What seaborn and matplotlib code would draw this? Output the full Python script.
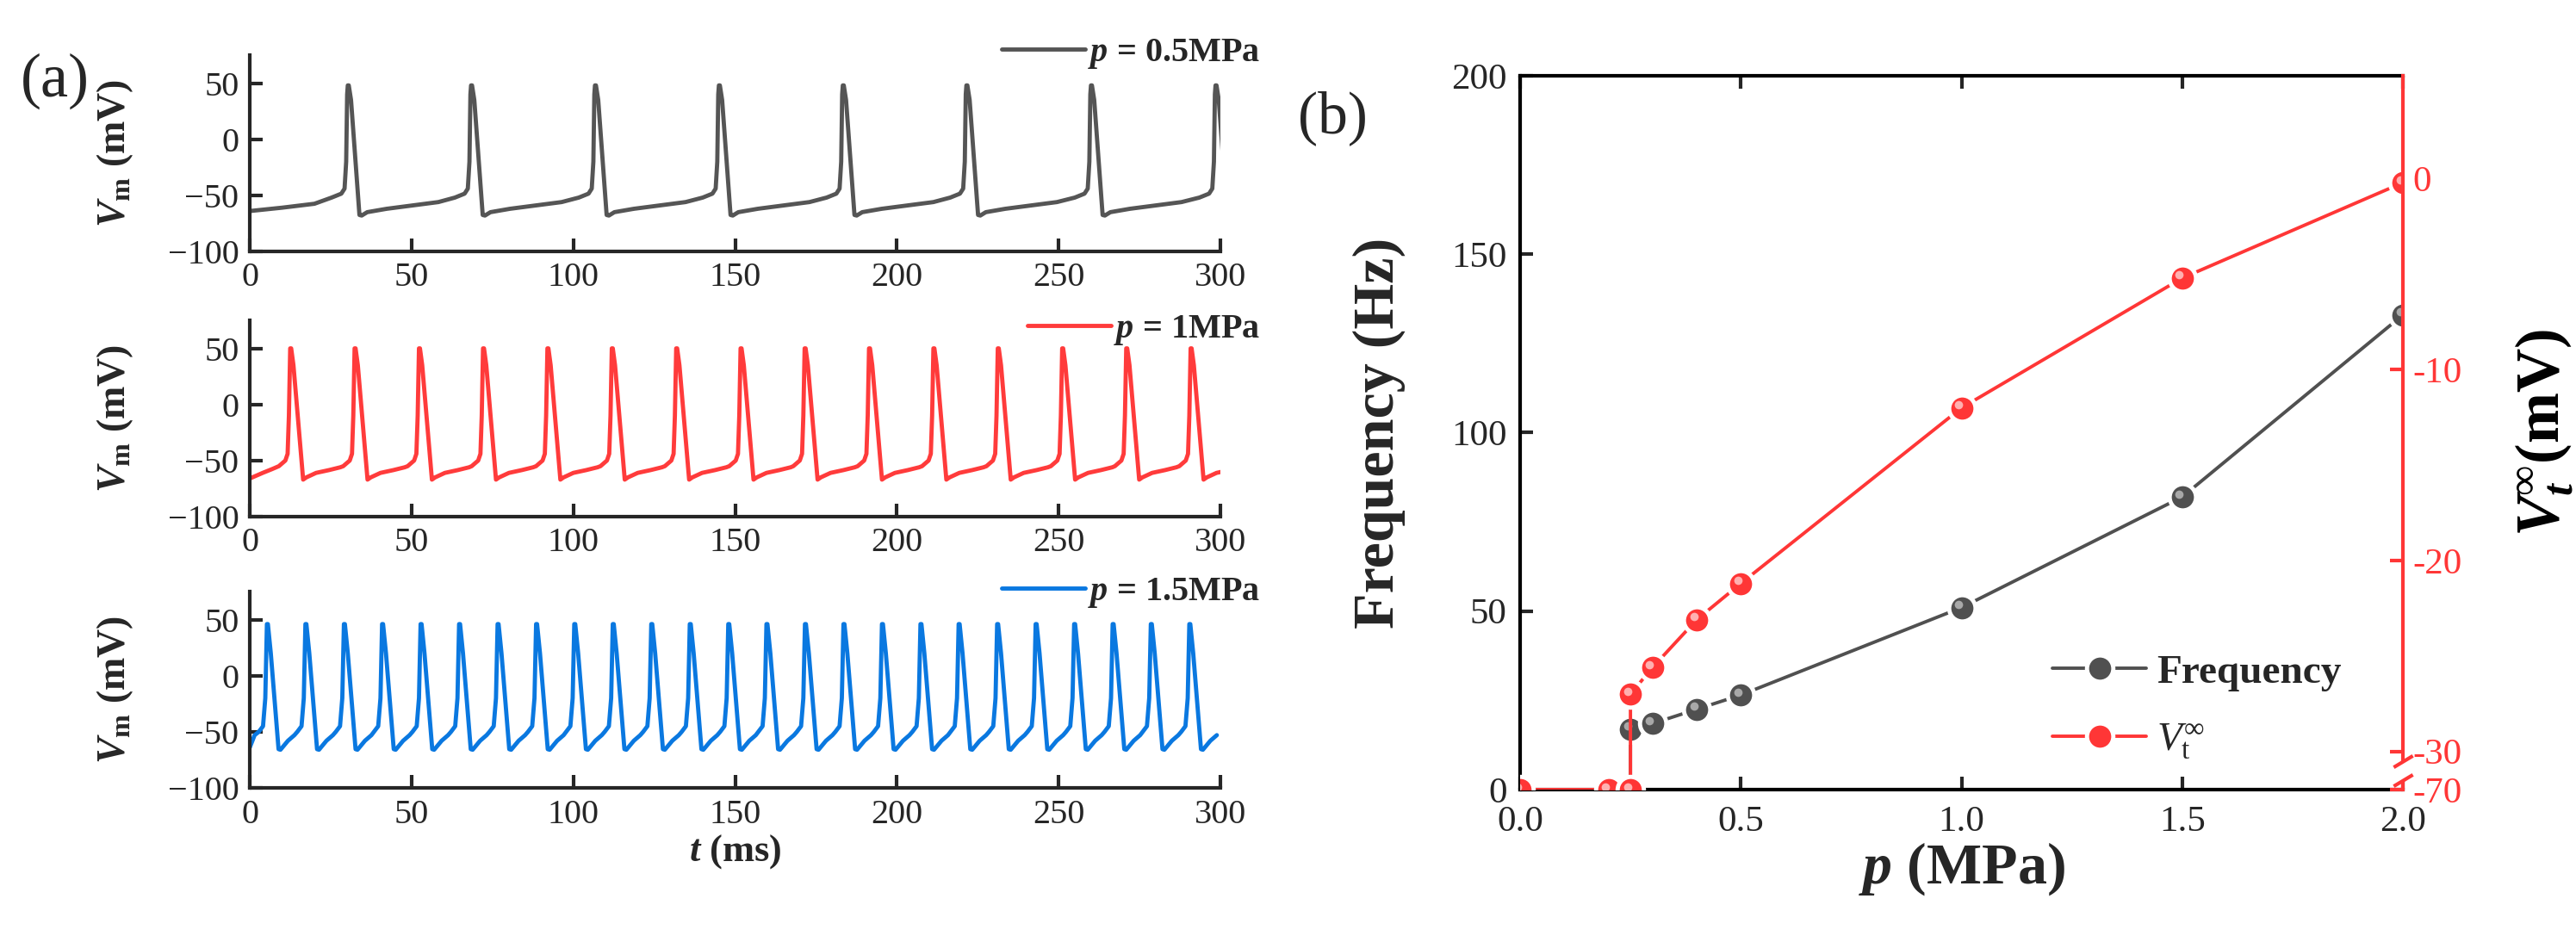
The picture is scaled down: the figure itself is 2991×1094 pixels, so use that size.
import numpy as np
import pandas as pd
import matplotlib
matplotlib.use("Agg")
import matplotlib.pyplot as plt
import seaborn as sns
from matplotlib.ticker import FuncFormatter, FormatStrFormatter, NullLocator
from matplotlib.transforms import blended_transform_factory, ScaledTranslation

# ---------------- panel (a): membrane potential traces ----------------
# spike peak times (ms)
peaks_05 = [30.3, 68.4, 106.7, 145.0, 183.3, 221.5, 260.0, 298.5]
peaks_10 = [12.5, 32.4, 52.3, 72.1, 92.0, 111.9, 131.8, 151.7, 171.5, 191.4,
            211.3, 231.2, 251.1, 270.9, 290.8]
peaks_15 = [5.3, 17.2, 29.1, 40.9, 52.8, 64.7, 76.6, 88.5, 100.3, 112.2, 124.1,
            136.0, 147.9, 159.7, 171.6, 183.5, 195.4, 207.3, 219.1, 231.0, 242.9,
            254.8, 266.7, 278.5, 290.4]

# one cycle of each trace: offset from the peak (ms) and V_m (mV)
cyc_05_dt = [-5.0, -2.0, -1.0, -0.5, -0.2, 0.0, 0.3, 1.0, 3.6, 4.3, 6.0, 12.0, 20.0, 28.0]
cyc_05_v = [-52, -48.5, -44, -20, 40, 48, 48, 35, -67.5, -68, -65, -62, -59, -56]
cyc_10_dt = [-3.5, -1.5, -0.8, -0.4, 0.0, 0.3, 1.0, 4.0, 5.0, 8.0, 12.0, 15.5]
cyc_10_v = [-55, -50, -44, -10, 50, 50, 35, -67, -65, -61, -58.5, -56]
cyc_15_dt = [-2.5, -1.2, -0.5, 0.0, 0.3, 1.2, 3.6, 4.2, 6.5, 8.5]
cyc_15_v = [-50, -45, -20, 46, 46, 20, -65.5, -66, -58, -53]

# start of each trace before the first spike
start_05_t, start_05_v = [0, 10, 20], [-64, -61, -57.5]
start_10_t, start_10_v = [0, 4, 7], [-66, -61, -57.5]
start_15_t, start_15_v = [0, 1.5], [-64, -53]

# ---------------- panel (b): frequency and V_t vs pressure ----------------
p_vals = [0.0, 0.2, 0.25, 0.25, 0.3, 0.4, 0.5, 1.0, 1.5, 2.0]
freq = [0, 0, 0, 17, 18.5, 22.5, 26.5, 51, 82, 133]
vt_inf = [-70, -70, -70, -27.0, -25.6, -23.1, -21.2, -12.0, -5.2, -0.2]

GRAY = "#505050"
RED = "#ff3636"
BLUE = "#0a78e0"


def build_trace(start_t, start_v, peaks, dt, v):
    t = list(start_t)
    y = list(start_v)
    for tp in peaks:
        t += [tp + d for d in dt]
        y += list(v)
    return pd.DataFrame({"t": t, "V": y})


sns.set_theme(style="ticks")
plt.rcParams["font.family"] = ["Liberation Serif", "DejaVu Serif"]
plt.rcParams["mathtext.fontset"] = "custom"
plt.rcParams["mathtext.rm"] = "Liberation Serif"
plt.rcParams["mathtext.it"] = "Liberation Serif:italic"
plt.rcParams["mathtext.bf"] = "Liberation Serif:bold"
try:
    plt.rcParams["mathtext.bfit"] = "Liberation Serif:bold:italic"
except KeyError:
    pass
plt.rcParams["xtick.direction"] = "in"
plt.rcParams["ytick.direction"] = "in"

W, H = 2991, 1094
fig = plt.figure(figsize=(W / 100, H / 100), dpi=100)

traces = [
    (build_trace(start_05_t, start_05_v, peaks_05, cyc_05_dt, cyc_05_v), "#555555",
     r"$\mathbfit{p}$ = 0.5MPa", 292, 1.005),
    (build_trace(start_10_t, start_10_v, peaks_10, cyc_10_dt, cyc_10_v), "#ff3b3b",
     r"$\mathbfit{p}$ = 1MPa", 600, 0.95),
    (build_trace(start_15_t, start_15_v, peaks_15, cyc_15_dt, cyc_15_v), BLUE,
     r"$\mathbfit{p}$ = 1.5MPa", 915, 0.995),
]

for df, col, lab, ybot, leg_y in traces:
    ax = fig.add_axes([290 / W, 1 - ybot / H, 1127 / W, 228 / H])
    sns.lineplot(data=df, x="t", y="V", color=col, lw=3.5, sort=False,
                 estimator=None, ax=ax, label=lab)
    ax.set_xlim(0, 300)
    ax.set_ylim(-100, 75)
    ax.set_xticks([0, 50, 100, 150, 200, 250, 300])
    ax.set_yticks([-100, -50, 0, 50])
    sns.despine(ax=ax)
    for s in ["left", "bottom"]:
        ax.spines[s].set_linewidth(3)
    ax.tick_params(length=11, width=3, labelsize=29, pad=9)
    ax.set_xlabel("")
    ax.set_ylabel(r"$\mathbfit{V}_{\mathbf{m}}$ (mV)", fontsize=33, fontweight="bold")
    ax.yaxis.set_label_coords(-0.118, 0.5)
    ax.legend(loc="center right", bbox_to_anchor=(1.041, leg_y), frameon=False,
              handlelength=2.4, handletextpad=0.08, borderpad=0, borderaxespad=0,
              prop={"weight": "bold", "size": 29})

ax.set_xlabel(r"$\mathbfit{t}$ (ms)", fontsize=32, fontweight="bold", labelpad=2)

# ---------------- panel (b) ----------------
dfb = pd.DataFrame({"p": p_vals, "freq": freq, "vt": vt_inf})
# small highlight shifted up-left gives the markers a ball look
shine = ScaledTranslation(-3.5 / 100, 3.5 / 100, fig.dpi_scale_trans)

axb = fig.add_axes([1765 / W, 1 - 917 / H, 1025 / W, 829 / H])
sns.lineplot(data=dfb, x="p", y="freq", sort=False, estimator=None, color=GRAY,
             lw=2.8, marker="o", ms=22, mfc=GRAY, mec="white", mew=3.5, ax=axb,
             label="Frequency")
axb.plot(dfb["p"], dfb["freq"], ls="none", marker="o", ms=7, color="#a8a8a8",
         mew=0, transform=axb.transData + shine)
axb.set_xlim(0, 2)
axb.set_ylim(0, 200)
axb.set_xticks([0, 0.5, 1.0, 1.5, 2.0])
axb.set_yticks([0, 50, 100, 150, 200])
axb.xaxis.set_major_formatter(FormatStrFormatter("%.1f"))
for s in ["left", "bottom", "top"]:
    axb.spines[s].set_linewidth(3)
    axb.spines[s].set_color("black")
axb.spines["right"].set_visible(False)
axb.tick_params(top=True, right=False, length=11, width=3, labelsize=31)
axb.tick_params(axis="x", pad=13)
axb.tick_params(axis="y", pad=11)
axb.set_xlabel(r"$\mathbfit{p}$ (MPa)", fontsize=49, fontweight="bold", labelpad=2)
axb.set_ylabel("Frequency (Hz)", fontsize=49, fontweight="bold")
axb.yaxis.set_label_coords(-0.13, 0.5)

# right axis with a break between -30 and -70 mV
K = 0.05


def fwd(v):
    v = np.asarray(v, dtype=float)
    return np.where(v >= -30, v, -30 + (v + 30) * K)


def inv(u):
    u = np.asarray(u, dtype=float)
    return np.where(u >= -30, u, -30 + (u + 30) / K)


ax2 = axb.twinx()
ax2.set_yscale("function", functions=(fwd, inv))
sns.lineplot(data=dfb, x="p", y="vt", sort=False, estimator=None, color=RED,
             lw=2.8, marker="o", ms=22, mfc=RED, mec="white", mew=3.5, ax=ax2,
             label=r"$V_{\mathrm{t}}^{\infty}$")
ax2.plot(dfb["p"], dfb["vt"], ls="none", marker="o", ms=7, color="#ffb0b0",
         mew=0, transform=ax2.transData + shine)
ax2.set_xlim(0, 2)
ax2.set_ylim(-70, 5.4)
ax2.set_yticks([-70, -30, -20, -10, 0])
ax2.yaxis.set_major_formatter(FuncFormatter(lambda v, pos: f"{v:.0f}"))
ax2.yaxis.set_minor_locator(NullLocator())
for s in ["left", "bottom", "top"]:
    ax2.spines[s].set_visible(False)
ax2.spines["right"].set_color(RED)
ax2.spines["right"].set_linewidth(3)
ax2.tick_params(axis="y", colors=RED, length=11, width=3, labelsize=31, pad=8)
ax2.set_ylabel(r"$\mathbfit{V}_{\mathbfit{t}}^{\infty}$(mV)", fontsize=51,
               fontweight="bold", color="black")
ax2.yaxis.set_label_coords(1.125, 0.5)

# break marks on the red axis
tr = blended_transform_factory(ax2.transAxes, ax2.transData)
ax2.plot([1], [-50], marker="|", ms=16, mew=8, color="white", transform=tr,
         clip_on=False, zorder=5)
for yb in [-40, -60]:
    ax2.plot([1], [yb], marker=[(-1, -0.6), (1, 0.6)], ms=16, mew=3, color=RED,
             transform=tr, clip_on=False, zorder=6)

# combined legend
h1, l1 = axb.get_legend_handles_labels()
h2, l2 = ax2.get_legend_handles_labels()
if axb.get_legend() is not None:
    axb.get_legend().remove()
ax2.legend(h1[:1] + h2[:1], l1[:1] + l2[:1], loc="lower right",
           bbox_to_anchor=(0.93, 0.04), frameon=False, handlelength=2.3,
           handletextpad=0.25, labelspacing=0.75, borderpad=0, borderaxespad=0,
           prop={"weight": "bold", "size": 34})

fig.text(0.008, 0.914, "(a)", fontsize=52, va="center", ha="left")
fig.text(0.504, 0.875, "(b)", fontsize=50, va="center", ha="left")

fig.savefig("out.png", dpi=100)
